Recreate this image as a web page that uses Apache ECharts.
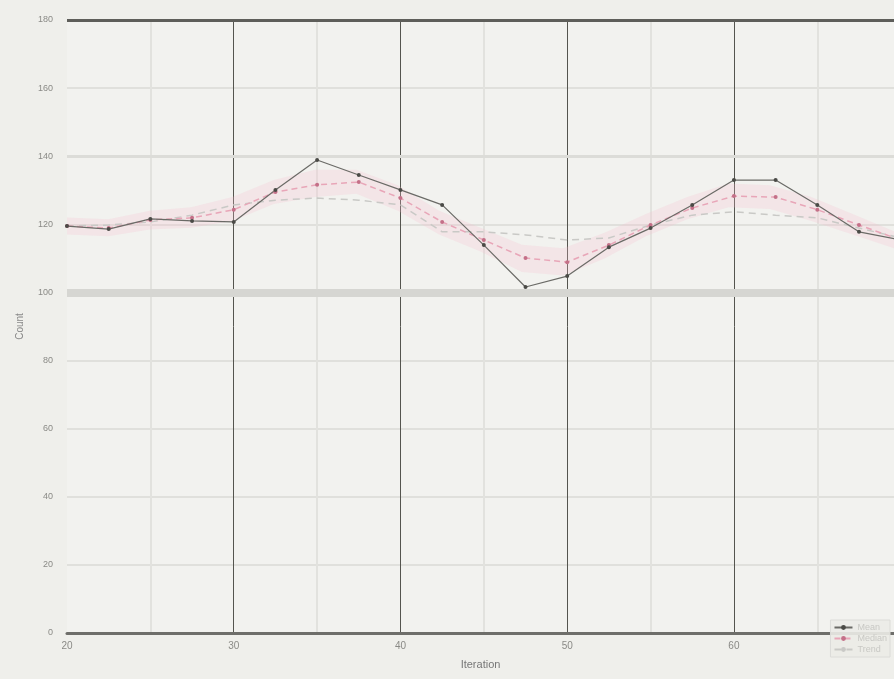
<!DOCTYPE html>
<html>
<head>
<meta charset="utf-8">
<script src="https://cdn.jsdelivr.net/npm/echarts@6/dist/echarts.min.js"></script>
<style>html,body{margin:0;padding:0;background:#efefeb;}#c{width:894px;height:679px;}</style>
</head>
<body>
<div id="c"></div>
<script>
const xValues = [20,22.5,25,27.5,30,32.5,35,37.5,40,42.5,45,47.5,50,52.5,55,57.5,60,62.5,65,67.5,70];
const seriesA = [119.5,118.6,121.6,121.0,120.7,130.1,138.9,134.5,130.1,125.7,113.9,101.6,104.8,113.3,118.9,125.7,133.0,133.0,125.7,117.8,115.4];
const seriesB = [119.5,118.9,121.3,121.9,124.3,129.5,131.6,132.4,127.7,120.7,115.4,110.1,108.9,113.9,119.8,124.8,128.3,128.0,124.3,119.8,115.4];
const seriesC = [119.5,119.8,120.7,122.7,125.7,127.1,127.7,127.1,125.7,117.8,117.8,116.9,115.4,116.0,119.8,122.7,123.7,122.7,121.9,118.9,116.0];
const bandLow = [117,116.5,118.5,119,121,126,128,129,124,117,112,106,105,110,116.5,121.5,125,124.5,121,117,113];
const bandHigh = [122,121.5,124,125,128,133,136,136,131.5,124,119,114,113,117.5,123,128,132,131.5,128,123,118];
const names = ['Mean','Median','Trend'];

const chart = echarts.init(document.getElementById('c'));
const pair = arr => arr.map((v,i)=>[xValues[i], v]);
chart.setOption({
  backgroundColor: '#efefeb',
  animation: false,
  grid: {left: 67, right: 0, top: 20, bottom: 46, backgroundColor: '#f2f2ef', show: true, borderWidth: 0},
  legend: {
    right: 4, bottom: 22, orient: 'vertical', itemWidth: 18, itemHeight: 6,
    textStyle: {color: '#c8c8c4', fontSize: 9}, backgroundColor: 'rgba(235,235,231,0.9)',
    borderColor: '#dcdcd8', borderWidth: 1, padding: 3, itemGap: 2,
    data: names
  },
  xAxis: [{
    type: 'value', min: 20, max: 69.6, interval: 10,
    name: 'Iteration', nameLocation: 'middle', nameGap: 26,
    nameTextStyle: {color: '#777', fontSize: 11},
    axisLine: {show: true, lineStyle: {color: '#6e6e6a', width: 3}},
    axisTick: {show: false},
    axisLabel: {color: '#8a8a86', fontSize: 10, margin: 8, showMaxLabel: false,
      formatter: v => (v % 10 === 0 ? String(v) : '')},
    splitLine: {show: true, lineStyle: {color: ['rgba(0,0,0,0)','#55554f','#55554f','#55554f','#55554f','#55554f'], width: 1}},
    minorTick: {show: false, splitNumber: 2},
    minorSplitLine: {show: true, lineStyle: {color: '#e2e2de', width: 2}}
  }, {
    type: 'category', data: xValues, boundaryGap: false, show: false, position: 'bottom'
  }],
  yAxis: {
    type: 'value', min: 0, max: 180, interval: 20,
    name: 'Count', nameLocation: 'middle', nameGap: 42, nameRotate: 90,
    nameTextStyle: {color: '#888', fontSize: 10},
    axisLine: {show: false}, axisTick: {show: false},
    axisLabel: {color: '#8a8a86', fontSize: 9, margin: 14},
    splitLine: {show: true, lineStyle: {color: '#e0e0dc', width: 2}}
  },
  series: [
    {type: 'line', xAxisIndex: 1, data: bandLow, stack: 'band', symbol: 'none', lineStyle: {opacity: 0}, silent: true,
     markLine: {silent: true, symbol: 'none', label: {show: false},
       data: [
         {yAxis: 180, lineStyle: {color: '#5e5e5a', width: 3, type: 'solid'}},
         {yAxis: 100, lineStyle: {color: '#d6d6d2', width: 8, type: 'solid'}},
         {yAxis: 140, lineStyle: {color: '#dcdcd8', width: 3, type: 'solid'}}
       ]}},
    {type: 'line', xAxisIndex: 1, data: bandHigh.map((v,i)=>v-bandLow[i]), stack: 'band', symbol: 'none', lineStyle: {opacity: 0},
     areaStyle: {color: 'rgba(245,190,205,0.35)'}, silent: true},
    {name: names[2], type: 'line', data: pair(seriesC), symbol: 'none', clip: false,
     lineStyle: {color: '#c9c9c6', width: 1.5, type: [7,5]}, itemStyle: {color: '#c9c9c6'}},
    {name: names[1], type: 'line', data: pair(seriesB), symbol: 'circle', symbolSize: 4, clip: false,
     lineStyle: {color: '#e8a6b8', width: 1.5, type: [6,4]}, itemStyle: {color: '#c47088'}},
    {name: names[0], type: 'line', data: pair(seriesA), symbol: 'circle', symbolSize: 4, clip: false,
     lineStyle: {color: '#6a6a66', width: 1.2}, itemStyle: {color: '#4a4a46'}}
  ]
});
</script>
</body>
</html>
